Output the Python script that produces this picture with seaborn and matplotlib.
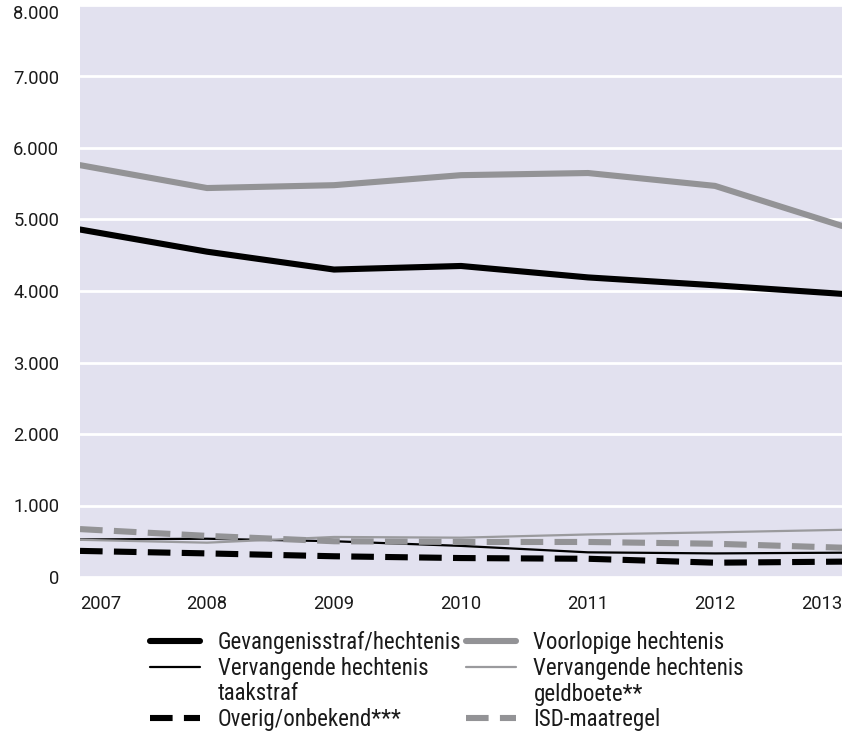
import matplotlib
matplotlib.use("Agg")
import matplotlib.pyplot as plt
import seaborn as sns
import pandas as pd
from matplotlib.lines import Line2D
from matplotlib.ticker import FuncFormatter

years = [2007, 2008, 2009, 2010, 2011, 2012, 2013]
gevangenisstraf = [4860, 4550, 4300, 4350, 4190, 4080, 3960]
voorlopige = [5760, 5440, 5480, 5620, 5650, 5470, 4910]
vervangende_taakstraf = [525, 535, 500, 435, 345, 330, 340]
vervangende_geldboete = [520, 480, 560, 550, 595, 625, 660]
overig = [365, 330, 290, 265, 255, 200, 215]
isd = [670, 575, 500, 490, 490, 465, 410]

labels = [
    "Gevangenisstraf/hechtenis",
    "Vervangende hechtenis taakstraf",
    "Overig/onbekend***",
    "Voorlopige hechtenis",
    "Vervangende hechtenis geldboete**",
    "ISD-maatregel",
]
series = [gevangenisstraf, vervangende_taakstraf, overig,
          voorlopige, vervangende_geldboete, isd]

sns.set_theme(style="darkgrid")
plt.rcParams['font.family'] = ['Roboto', 'DejaVu Sans']

fig = plt.figure(figsize=(8.55, 7.41), dpi=100)
ax = fig.add_axes([80/855, 1 - 577/741, (842-80)/855, (577-5)/741])
ax.set_facecolor('#e2e1ef')

styles = [
    dict(color='black', linewidth=4.4, linestyle='-'),
    dict(color='black', linewidth=1.6, linestyle='-'),
    dict(color='black', linewidth=4.4, linestyle=(0, (3.7, 1.85))),
    dict(color='#939396', linewidth=4.4, linestyle='-'),
    dict(color='#9a9a9d', linewidth=1.6, linestyle='-'),
    dict(color='#939396', linewidth=4.4, linestyle=(0, (3.7, 1.85))),
]
for vals, lab, st in zip(series, labels, styles):
    df = pd.DataFrame({"jaar": years, "aantal": vals})
    sns.lineplot(data=df, x="jaar", y="aantal", ax=ax, label=lab, **st)

ax.set_xlim(2007, 2013)
ax.set_ylim(0, 8000)
ax.set_xticks(years)
ax.set_yticks(range(0, 8001, 1000))
ax.yaxis.set_major_formatter(FuncFormatter(lambda v, p: f"{int(v):,}".replace(",", ".")))
ax.grid(axis='x', visible=False)
ax.grid(axis='y', color='white', linewidth=2)
ax.set_xlabel("")
ax.set_ylabel("")
for s in ax.spines.values():
    s.set_visible(False)
ax.tick_params(axis='both', length=0, labelsize=13.2, colors='#1a1a1a')
ax.tick_params(axis='x', pad=13)
ax.tick_params(axis='y', pad=15)
xt = ax.get_xticklabels()
xt[0].set_ha('left')
xt[-1].set_ha('right')
yt = ax.get_yticklabels()
yt[-1].set_va('top')

# legend: wrap the two long labels onto a second row without a handle
handles, labs = ax.get_legend_handles_labels()
ax.get_legend().remove()
blank = Line2D([], [], color='none')
h = [handles[0], handles[1], blank, handles[2],
     handles[3], handles[4], blank, handles[5]]
l = ["Gevangenisstraf/hechtenis", "Vervangende hechtenis", "taakstraf",
     "Overig/onbekend***",
     "Voorlopige hechtenis", "Vervangende hechtenis", "geldboete**",
     "ISD-maatregel"]
leg = fig.legend(h, l, loc='upper left', bbox_to_anchor=(150/855, 1 - 631/741),
                 ncol=2, frameon=False,
                 prop=dict(family=['Roboto Condensed', 'DejaVu Sans'], size=16.5),
                 handlelength=2.2, handletextpad=0.75, columnspacing=0.2,
                 labelspacing=0.12, borderpad=0, borderaxespad=0)
for t in leg.get_texts():
    t.set_color('#1a1a1a')

fig.savefig("out.png", dpi=100)
